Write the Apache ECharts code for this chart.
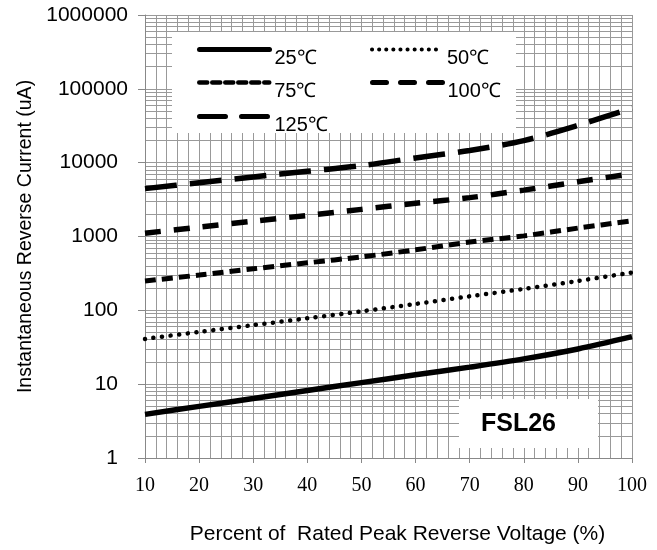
<!DOCTYPE html>
<html><head><meta charset="utf-8">
<script src="https://cdn.jsdelivr.net/npm/echarts@6/dist/echarts.min.js"></script>
<style>html,body{margin:0;padding:0;background:#fff}#c{width:657px;height:550px}</style>
</head><body><div id="c"></div>
<script>
// ---- data ----
const percent = [10, 20, 30, 40, 50, 60, 70, 80, 90, 100];
const i25  = [3.9, 5.0, 6.4, 8.2, 10.5, 13.4, 17, 22, 30, 44];
const i50  = [41, 51, 63, 78, 97, 122, 155, 195, 250, 325];
const i75  = [250, 300, 365, 440, 530, 660, 840, 1020, 1300, 1630];
const i100 = [1110, 1340, 1610, 1930, 2330, 2820, 3360, 4250, 5500, 7100];
const i125 = [4450, 5350, 6400, 7650, 9100, 11600, 14600, 19900, 32000, 55000];
const seriesNames = ['25℃', '50℃', '75℃', '100℃', '125℃'];
const decadeTicks = [1, 10, 100, 1000, 10000, 100000, 1000000];
const minorMultipliers = [2, 3, 4, 5, 6, 7, 8, 9];
const tagText = 'FSL26';
const xName = 'Percent of  Rated Peak Reverse Voltage (%)';
const yName = 'Instantaneous Reverse Current (uA)';

const GRID = '#999999';
const SANS = 'Liberation Sans, Arial, sans-serif';
const minorLines = [];
decadeTicks.slice(0, -1).forEach(d => minorMultipliers.forEach(m => minorLines.push({yAxis: d * m})));

function pts(arr) { return percent.map((p, i) => [p, arr[i]]); }
const styles = [
  {width: 5.5, type: 'solid', cap: 'butt'},
  {width: 4.5, type: [0.1, 8.5], cap: 'round'},
  {width: 5, type: [11, 6], cap: 'butt'},
  {width: 5.5, type: [16, 13], cap: 'butt'},
  {width: 5.5, type: [32, 13], cap: 'butt'}
];
const legendStyles = [
  {width: 5, type: 'solid', cap: 'round'},
  {width: 4, type: [0.1, 7], cap: 'round'},
  {width: 4.5, type: [8, 5], cap: 'round'},
  {width: 5, type: [14, 14], cap: 'round'},
  {width: 5, type: [26, 16], cap: 'round'}
];
const allData = [i25, i50, i75, i100, i125];
const series = allData.map((arr, k) => ({
  name: seriesNames[k], type: 'line', data: pts(arr), symbol: 'none', smooth: 0.3, z: 3,
  itemStyle: {color: '#000'},
  lineStyle: Object.assign({color: '#000'}, styles[k]), silent: true
}));
series.push({
  name: 'minor', type: 'line', data: [], symbol: 'none', silent: true, z: 0,
  markLine: {silent: true, symbol: 'none', z: 0, label: {show: false},
    lineStyle: {color: GRID, width: 1, type: 'solid'}, data: minorLines}
});

const legendPos = [[197, 44], [370, 44], [197, 77], [370, 77], [197, 111]];
const legends = seriesNames.map((n, k) => ({
  data: [n], left: legendPos[k][0], top: legendPos[k][1], padding: 0,
  itemWidth: 70, itemHeight: 14, selectedMode: false, z: 4,
  itemStyle: {color: 'rgba(0,0,0,0)', borderWidth: 0, opacity: 0},
  lineStyle: Object.assign({color: '#000'}, legendStyles[k]),
  formatter: '{a|{name}}',
  textStyle: {fontSize: 20, fontFamily: SANS, color: '#000',
    rich: {a: {fontSize: 20, fontFamily: SANS, color: '#000', padding: [17, 0, 0, 0]}}}
}));

const chart = echarts.init(document.getElementById('c'));
chart.setOption({
  animation: false,
  grid: {left: 145, right: 25, top: 15, bottom: 88, containLabel: false},
  xAxis: {
    type: 'value', min: 10, max: 100, interval: 10,
    name: xName, nameLocation: 'middle', nameGap: 66,
    nameTextStyle: {fontSize: 21, fontFamily: SANS, color: '#000', padding: [0, 0, 0, 18]},
    axisLine: {lineStyle: {color: '#888', width: 1}},
    axisTick: {show: true, length: 5, lineStyle: {color: '#888'}},
    axisLabel: {fontSize: 20, fontFamily: 'Liberation Serif, Times New Roman, serif', color: '#000', margin: 18},
    splitLine: {show: true, lineStyle: {color: GRID, width: 1}},
    minorTick: {show: false, splitNumber: 5},
    minorSplitLine: {show: true, lineStyle: {color: GRID, width: 1}}
  },
  yAxis: {
    type: 'log', logBase: 10, min: 1, max: 1000000,
    name: yName, nameLocation: 'middle', nameGap: 109,
    nameTextStyle: {fontSize: 19.5, fontFamily: SANS, color: '#000'},
    axisLine: {show: true, lineStyle: {color: '#888', width: 1}},
    axisTick: {show: true, length: 7, lineStyle: {color: '#888'}},
    axisLabel: {
      fontSize: 21, fontFamily: SANS, color: '#000', margin: 17,
      formatter: v => { const s = String(Math.round(v)); return v >= 100000 ? s : '{s|' + s + '}'; },
      rich: {s: {fontSize: 21, fontFamily: SANS, color: '#000', padding: [0, 10, 0, 0]}}
    },
    splitLine: {show: true, lineStyle: {color: GRID, width: 1}}
  },
  legend: legends,
  graphic: [
    {type: 'rect', z: 1, shape: {x: 172, y: 32, width: 344, height: 101}, style: {fill: '#fff'}, silent: true},
    {type: 'rect', z: 1, shape: {x: 459, y: 399, width: 139, height: 49}, style: {fill: '#fff'}, silent: true},
    {type: 'text', z: 2, x: 518.5, y: 424, style: {text: tagText, fontSize: 25, fontWeight: 'bold',
      fontFamily: SANS, fill: '#000', align: 'center', verticalAlign: 'middle'}, silent: true}
  ],
  series: series
});
</script></body></html>
